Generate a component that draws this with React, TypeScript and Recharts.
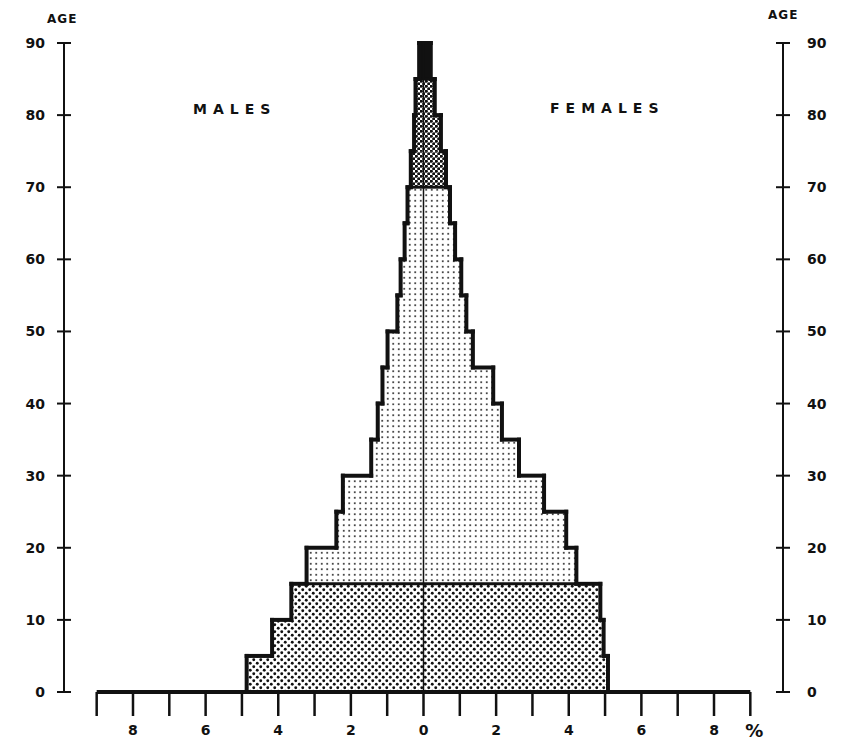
import React from "react";
import { BarChart, Bar, XAxis, YAxis, ReferenceLine, ComposedChart } from "recharts";

const ageGroups = ["0-4", "5-9", "10-14", "15-19", "20-24", "25-29", "30-34", "35-39", "40-44", "45-49", "50-54", "55-59", "60-64", "65-69", "70-74", "75-79", "80-84", "85+"];
const groupStart = [0, 5, 10, 15, 20, 25, 30, 35, 40, 45, 50, 55, 60, 65, 70, 75, 80, 85];
const males = [4.87, 4.17, 3.64, 3.22, 2.4, 2.22, 1.44, 1.26, 1.13, 0.99, 0.72, 0.63, 0.52, 0.44, 0.35, 0.26, 0.22, 0.12];
const females = [5.08, 4.96, 4.87, 4.21, 3.93, 3.32, 2.63, 2.16, 1.92, 1.36, 1.18, 1.04, 0.87, 0.73, 0.62, 0.48, 0.31, 0.2];

const ageTicks = [0, 10, 20, 30, 40, 50, 60, 70, 80, 90];
const pctTicks = [-9, -8, -7, -6, -5, -4, -3, -2, -1, 0, 1, 2, 3, 4, 5, 6, 7, 8, 9];
const pctTickLabels = ["", "8", "", "6", "", "4", "", "2", "", "0", "", "2", "", "4", "", "6", "", "8", "%"];

const INK = "#111";
const FONT = "'DejaVu Sans', sans-serif";
const W = 851;
const H = 744;
const PCT_DOMAIN = [-9.9, 9.9];
const AGE_DOMAIN = [0, 90];

const rows = ageGroups.map((group, i) => ({ group, start: groupStart[i], male: -males[i], female: females[i] }));

const fillFor = (start: number) =>
  start >= 85 ? INK : start >= 70 ? "url(#pOld)" : start >= 15 ? "url(#pAdult)" : "url(#pYoung)";

// outline only on the outer side, plus the steps between age groups
const sideShape = (vals: number[], dir: number) => (props: any) => {
  const { x, y, width, height } = props;
  const index = props.index ?? ageGroups.indexOf(props.payload?.group);
  const left = Math.min(x, x + width);
  const right = Math.max(x, x + width);
  const w = right - left;
  const top = Math.min(y, y + height);
  const bottom = top + Math.abs(height);
  const center = dir < 0 ? right : left;
  const edge = dir < 0 ? left : right;
  const perUnit = w / vals[index];
  const next = vals[index + 1];
  const aboveEdge = next === undefined ? center : center + dir * next * perUnit;
  const start = groupStart[index];
  return (
    <g>
      <rect x={left} y={top} width={w} height={bottom - top} fill={fillFor(start)} />
      {(start === 15 || start === 70 || start === 85) && (
        <line x1={center} x2={edge} y1={bottom} y2={bottom} stroke={INK} strokeWidth={3} />
      )}
      <line x1={edge} x2={edge} y1={top} y2={bottom} stroke={INK} strokeWidth={4} strokeLinecap="square" />
      <line x1={edge} x2={aboveEdge} y1={top} y2={top} stroke={INK} strokeWidth={4} strokeLinecap="square" />
    </g>
  );
};

const AgeTick = ({ x, y, payload, side }: any) => {
  const ax = side === "left" ? x + 19 : x - 24;
  return (
    <g>
      <line x1={ax - 7} x2={ax + 7} y1={y} y2={y} stroke={INK} strokeWidth={2} />
      <text
        x={x}
        y={y + 5}
        textAnchor={side === "left" ? "end" : "start"}
        fontFamily={FONT}
        fontWeight="bold"
        fontSize={14}
        fill={INK}
      >
        {payload.value}
      </text>
    </g>
  );
};

const PctTick = ({ x, y, payload }: any) => {
  const label = pctTickLabels[pctTicks.indexOf(payload.value)];
  const isPct = label === "%";
  return (
    <text
      x={x + (isPct ? 4 : 0)}
      y={y + (isPct ? 13 : 11)}
      textAnchor="middle"
      fontFamily={FONT}
      fontWeight="bold"
      fontSize={isPct ? 18 : 14}
      fill={INK}
    >
      {label}
    </text>
  );
};

const textStyle: React.CSSProperties = {
  position: "absolute",
  fontFamily: FONT,
  fontWeight: "bold",
  color: INK,
  lineHeight: 1,
  whiteSpace: "nowrap",
};

const layer: React.CSSProperties = { position: "absolute", left: 0, top: 0 };

export default function App() {
  return (
    <div style={{ position: "absolute", left: 0, top: 0, width: W, height: H, background: "#fff" }}>
      <svg width={0} height={0} style={{ position: "absolute" }}>
        <defs>
          <pattern id="pYoung" width={7} height={7} patternUnits="userSpaceOnUse">
            <circle cx={1.75} cy={1.75} r={1.45} fill={INK} />
            <circle cx={5.25} cy={5.25} r={1.45} fill={INK} />
          </pattern>
          <pattern id="pAdult" width={5.5} height={5.5} patternUnits="userSpaceOnUse">
            <circle cx={2.75} cy={2.75} r={0.95} fill={INK} />
          </pattern>
          <pattern id="pOld" width={5} height={5} patternUnits="userSpaceOnUse">
            <circle cx={1.25} cy={1.25} r={1.6} fill={INK} />
            <circle cx={3.75} cy={3.75} r={1.6} fill={INK} />
          </pattern>
        </defs>
      </svg>

      {/* the pyramid itself */}
      <div style={layer}>
        <BarChart
          width={W}
          height={H}
          data={rows}
          layout="vertical"
          stackOffset="sign"
          barCategoryGap={0}
          barGap={0}
          margin={{ top: 43, right: 68, bottom: 52, left: 64 }}
        >
          <XAxis type="number" domain={PCT_DOMAIN} hide />
          <YAxis type="category" dataKey="group" reversed hide />
          <Bar dataKey="male" stackId="p" isAnimationActive={false} shape={sideShape(males, -1)} />
          <Bar dataKey="female" stackId="p" isAnimationActive={false} shape={sideShape(females, 1)} />
        </BarChart>
      </div>

      {/* axes drawn over the bars with the same plot box */}
      <div style={{ ...layer, pointerEvents: "none" }}>
        <ComposedChart width={W} height={H} data={rows} margin={{ top: 43, right: 0, bottom: 0, left: 0 }}>
          <XAxis
            type="number"
            dataKey="female"
            domain={PCT_DOMAIN}
            allowDataOverflow
            ticks={pctTicks}
            interval={0}
            axisLine={false}
            tickLine={{ stroke: INK, strokeWidth: 2.5 }}
            tickSize={24}
            tickMargin={8}
            height={52}
            tick={<PctTick />}
          />
          <YAxis
            yAxisId="left"
            orientation="left"
            type="number"
            dataKey="start"
            domain={AGE_DOMAIN}
            allowDataOverflow
            ticks={ageTicks}
            interval={0}
            width={64}
            axisLine={{ stroke: INK, strokeWidth: 2 }}
            tickLine={false}
            tickSize={7}
            tickMargin={12}
            tick={<AgeTick side="left" />}
          />
          <YAxis
            yAxisId="right"
            orientation="right"
            type="number"
            dataKey="start"
            domain={AGE_DOMAIN}
            allowDataOverflow
            ticks={ageTicks}
            interval={0}
            width={68}
            axisLine={{ stroke: INK, strokeWidth: 2 }}
            tickLine={false}
            tickSize={7}
            tickMargin={17}
            tick={<AgeTick side="right" />}
          />
          <ReferenceLine yAxisId="left" x={0} stroke={INK} strokeWidth={1.5} />
          <ReferenceLine
            yAxisId="left"
            segment={[{ x: -9, y: 0 }, { x: 9, y: 0 }]}
            stroke={INK}
            strokeWidth={4}
          />
        </ComposedChart>
      </div>

      <div style={{ ...textStyle, left: 47, top: 13, fontSize: 12, letterSpacing: 1 }}>AGE</div>
      <div style={{ ...textStyle, left: 768, top: 9, fontSize: 12, letterSpacing: 1 }}>AGE</div>
      <div style={{ ...textStyle, left: 193, top: 102, fontSize: 14, letterSpacing: 6 }}>MALES</div>
      <div style={{ ...textStyle, left: 550, top: 101, fontSize: 14, letterSpacing: 6 }}>FEMALES</div>
    </div>
  );
}
